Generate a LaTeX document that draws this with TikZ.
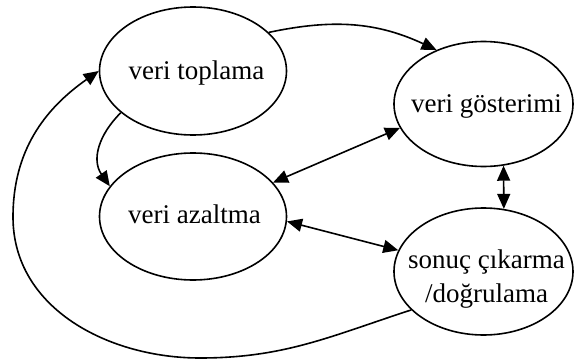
\documentclass[tikz,border=0pt]{standalone}
\usepackage{fontspec}
\setmainfont{Liberation Serif}
\usetikzlibrary{shapes.geometric,arrows.meta}
\begin{document}
\begin{tikzpicture}[x=1pt,y=1pt,
  st/.style={ellipse, draw, line width=1.6pt, inner sep=0pt},
  lab/.style={inner sep=0pt, align=center, font=\fontsize{27}{34}\selectfont},
  ar/.style={line width=1.6pt, -{Triangle[length=15pt,width=13pt]}},
  dar/.style={line width=1.6pt, {Triangle[length=15pt,width=13pt]}-{Triangle[length=15pt,width=13pt]}}
]
\useasboundingbox (0,0) rectangle (574,360);
\node[st, minimum width=187pt, minimum height=128pt] (A) at (193,289) {};
\node[st, minimum width=179pt, minimum height=125pt] (B) at (483.5,256) {};
\node[st, minimum width=187pt, minimum height=127pt] (C) at (193,143.5) {};
\node[st, minimum width=179pt, minimum height=127pt] (D) at (483.5,88.5) {};
\node[lab, anchor=base] (At) at (196.5,281) {veri toplama};
\node[lab, anchor=base] (Bt) at (486.5,248) {veri gösterimi};
\node[lab, anchor=base] (Ct) at (194.5,137) {veri azaltma};
\node[lab] (Dt) at (486.5,81.3) {sonuç çıkarma\\/doğrulama};
\draw[ar] (A.27) to[out=12, in=155] (B.131);
\draw[ar] (A.210) to[out=225, in=125, looseness=1.1] (C.160);
\draw[dar] (C.23) -- (B.196);
\draw[dar] (C.-3) -- (D.166);
\draw[dar] (B.-72) -- (D.72);
\draw[ar] (D.208) to[out=198, in=0] (200,2) to[out=180, in=-90] (13,143) to[out=90, in=215] (A.180);
\end{tikzpicture}
\end{document}
